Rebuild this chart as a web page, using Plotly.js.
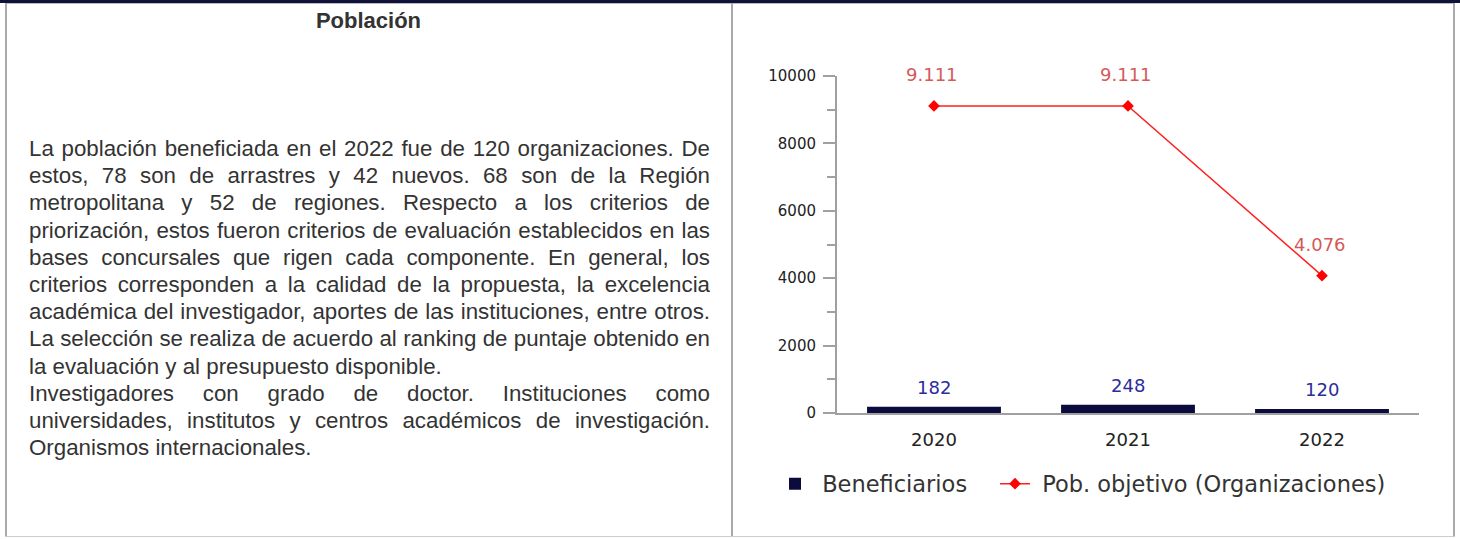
<!DOCTYPE html>
<html>
<head>
<meta charset="utf-8">
<script src="https://cdn.plot.ly/plotly-3.0.1.min.js"></script>
<style>
  html, body { margin:0; padding:0; background:#fff; }
  body { width:1460px; height:539px; position:relative; overflow:hidden; }
  .b { position:absolute; }
  .title { position:absolute; left:6px; width:725px; top:7px; text-align:center;
           font: bold 22px/28px "Liberation Sans", Arial, sans-serif; color:#333; }
  .para { position:absolute; left:29px; top:135px; width:681px;
          font: 22.3px/27.2px "Liberation Sans", Arial, sans-serif; color:#333; }
  .j { text-align:justify; text-align-last:justify; }
  #chart { position:absolute; left:733px; top:0; width:720px; height:539px; }
</style>
</head>
<body>
<div class="b" style="left:0;top:0;width:1460px;height:3px;background:#10103d;"></div>
<div class="b" style="left:5px;top:3px;width:1450px;height:1px;background:#bbb;"></div>
<div class="b" style="left:5px;top:3px;width:2px;height:534px;background:#aaa;"></div>
<div class="b" style="left:731px;top:3px;width:2px;height:534px;background:#aaa;"></div>
<div class="b" style="left:1453px;top:3px;width:2px;height:534px;background:#aaa;"></div>
<div class="b" style="left:5px;top:536px;width:1450px;height:1px;background:#ccc;"></div>

<div class="title">Población</div>
<div class="para">
  <div class="j">La población beneficiada en el 2022 fue de 120 organizaciones. De</div>
  <div class="j">estos, 78 son de arrastres y 42 nuevos. 68 son de la Región</div>
  <div class="j">metropolitana y 52 de regiones. Respecto a los criterios de</div>
  <div class="j">priorización, estos fueron criterios de evaluación establecidos en las</div>
  <div class="j">bases concursales que rigen cada componente. En general, los</div>
  <div class="j">criterios corresponden a la calidad de la propuesta, la excelencia</div>
  <div class="j">académica del investigador, aportes de las instituciones, entre otros.</div>
  <div class="j">La selección se realiza de acuerdo al ranking de puntaje obtenido en</div>
  <div>la evaluación y al presupuesto disponible.</div>
  <div class="j">Investigadores con grado de doctor. Instituciones como</div>
  <div class="j">universidades, institutos y centros académicos de investigación.</div>
  <div>Organismos internacionales.</div>
</div>

<div id="chart"></div>

<script>
// ---- data ----
const years = ['2020', '2021', '2022'];
const beneficiarios = [182, 248, 120];
const poblacionObjetivo = [9111, 9111, 4076];
const yTickVals = [0, 2000, 4000, 6000, 8000, 10000];
const yTickText = ['0', '2000', '4000', '6000', '8000', '10000'];
const seriesNames = ['Beneficiarios', 'Pob. objetivo (Organizaciones)'];

function fmt(v) { return String(v).replace(/\B(?=(\d{3})+(?!\d))/g, '.'); }

// plot area geometry in the chart div (pixels)
const W = 720, H = 539;
const M = { l: 104, r: 34, t: 76, b: 126 };
const PW = W - M.l - M.r, PH = H - M.t - M.b;
function px2x(px) { return (px - 733 - M.l) / PW; }
function py2y(py) { return (H - M.b - py) / PH; }

const traces = [
  {
    type: 'bar', x: years, y: beneficiarios, name: '\u00a0' + seriesNames[0],
    marker: { color: '#0b0b3e' }, legend: 'legend', hoverinfo: 'none'
  },
  {
    type: 'scatter', mode: 'lines+markers', x: years, y: poblacionObjetivo,
    name: '\u00a0' + seriesNames[1], legend: 'legend2',
    line: { color: '#ff2020', width: 1.5 },
    marker: { color: '#ff0000', symbol: 'diamond', size: 9 },
    cliponaxis: false, hoverinfo: 'none'
  }
];

const annotations = [];
years.forEach((yr, i) => {
  annotations.push({
    x: i, y: beneficiarios[i], xref: 'x', yref: 'y', text: fmt(beneficiarios[i]),
    showarrow: false, yanchor: 'middle', yshift: 19,
    font: { family: 'DejaVu Sans', size: 18, color: '#2c2c9c' }
  });
  annotations.push({
    x: i, y: poblacionObjetivo[i], xref: 'x', yref: 'y', text: fmt(poblacionObjetivo[i]),
    showarrow: false, yanchor: 'middle', yshift: 31, xshift: -2,
    font: { family: 'DejaVu Sans', size: 18, color: '#d45a5a' }
  });
});

const legendFont = { family: 'DejaVu Sans', size: 22.5, color: '#333' };
const layout = {
  width: W, height: H,
  margin: M,
  paper_bgcolor: 'rgba(0,0,0,0)', plot_bgcolor: 'rgba(0,0,0,0)',
  font: { family: 'DejaVu Sans', color: '#222' },
  bargap: 0.31,
  showlegend: true,
  legend: {
    orientation: 'h', x: px2x(775), y: py2y(484), xanchor: 'left', yanchor: 'middle',
    font: legendFont, bgcolor: 'rgba(0,0,0,0)', borderwidth: 0
  },
  legend2: {
    orientation: 'h', x: px2x(995), y: py2y(484), xanchor: 'left', yanchor: 'middle',
    font: legendFont, bgcolor: 'rgba(0,0,0,0)', borderwidth: 0
  },
  xaxis: {
    type: 'category', range: [-0.5, 2.5], automargin: false, fixedrange: true,
    showline: true, linecolor: '#a0a0a0', linewidth: 2,
    ticks: '', showgrid: false, zeroline: false, ticklabelstandoff: 9,
    tickfont: { family: 'DejaVu Sans', size: 18, color: '#222' }
  },
  yaxis: {
    range: [0, 10000], automargin: false, fixedrange: true,
    tickvals: yTickVals, ticktext: yTickText,
    showline: true, linecolor: '#a0a0a0', linewidth: 2,
    ticks: 'outside', ticklen: 12, tickwidth: 2, tickcolor: '#a0a0a0',
    minor: { dtick: 1000, ticks: 'outside', ticklen: 8, tickwidth: 2, tickcolor: '#a0a0a0', showgrid: false },
    showgrid: false, zeroline: false, ticklabelstandoff: 4,
    tickfont: { family: 'DejaVu Sans', size: 15, color: '#222' }
  },
  annotations: annotations
};

Plotly.newPlot('chart', traces, layout, { displayModeBar: false, staticPlot: true });
</script>
</body>
</html>
